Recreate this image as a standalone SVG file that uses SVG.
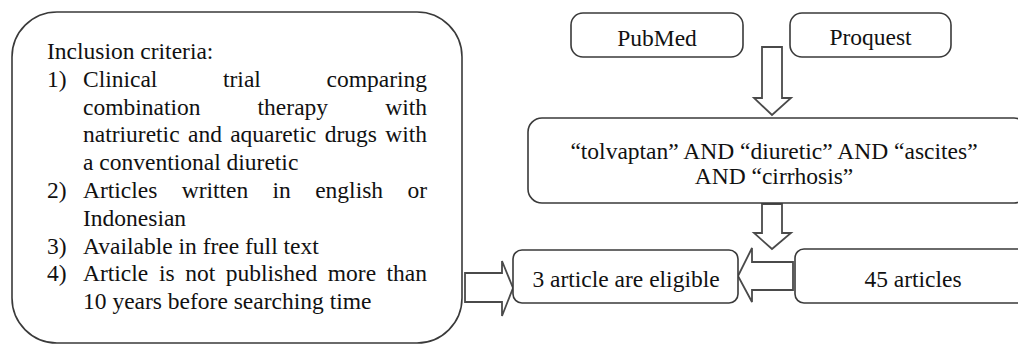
<svg xmlns="http://www.w3.org/2000/svg" width="1018" height="344" viewBox="0 0 1018 344" font-family="'Liberation Serif', 'Times New Roman', Times, serif">
<style>
  .box { fill: #ffffff; stroke: #3a3a3a; stroke-width: 1.6; }
  .arrow { fill: #ffffff; stroke: #4a4a4a; stroke-width: 1.8; stroke-linejoin: miter; }
  .t { font-family: 'Liberation Serif', 'Times New Roman', Times, serif; font-size: 23.5px; fill: #111111; }
  .c { text-anchor: middle; }
</style>
<rect width="1018" height="344" fill="#ffffff"/>

<g id="connectors">
  <polygon class="arrow" points="762,47 782,47 782,98 791,98 772,115 754,98 762,98"/>
  <polygon class="arrow" points="762,204 782,204 782,233 791,233 772,249 754,233 762,233"/>
  <polygon class="arrow" points="793,262 752,262 752,248 738,276 752,302 752,290 793,290"/>
  <polygon class="arrow" points="465,273 502,273 502,261 513,288 502,316 502,302 465,302"/>
</g>

<g id="criteria">
  <rect class="box" x="12" y="12" width="450" height="331" rx="45" ry="45"/>
  <text class="t" x="47" y="59">Inclusion criteria:</text>
  <text class="t" x="47" y="86.8">1)</text>
  <text class="t" y="86.8"><tspan x="83">Clinical</tspan><tspan x="223">trial</tspan><tspan x="326.5">comparing</tspan></text>
  <text class="t" y="114.6"><tspan x="83">combination</tspan><tspan x="257.6">therapy</tspan><tspan x="385.2">with</tspan></text>
  <text class="t" y="142.4"><tspan x="83">natriuretic</tspan><tspan x="188">and</tspan><tspan x="230.2">aquaretic</tspan><tspan x="324.7">drugs</tspan><tspan x="385.2">with</tspan></text>
  <text class="t" x="83" y="170.2">a conventional diuretic</text>
  <text class="t" x="47" y="198">2)</text>
  <text class="t" y="198"><tspan x="83">Articles</tspan><tspan x="181.7">written</tspan><tspan x="272.6">in</tspan><tspan x="315.2">english</tspan><tspan x="407.4">or</tspan></text>
  <text class="t" x="83" y="225.8">Indonesian</text>
  <text class="t" x="47" y="253.6">3)</text>
  <text class="t" x="83" y="253.6">Available in free full text</text>
  <text class="t" x="47" y="281.4">4)</text>
  <text class="t" y="281.4"><tspan x="83">Article</tspan><tspan x="158.9">is</tspan><tspan x="185.2">not</tspan><tspan x="225.8">published</tspan><tspan x="327.8">more</tspan><tspan x="386.6">than</tspan></text>
  <text class="t" x="83" y="309.2">10 years before searching time</text>
</g>

<g id="pubmed">
  <rect class="box" x="571" y="13" width="172" height="44" rx="12" ry="12"/>
  <text class="t c" x="657" y="46">PubMed</text>
</g>

<g id="proquest">
  <rect class="box" x="790" y="13" width="161" height="44" rx="12" ry="12"/>
  <text class="t c" x="870.5" y="45">Proquest</text>
</g>

<g id="search">
  <rect class="box" x="528" y="118" width="500" height="85" rx="14" ry="14"/>
  <text class="t c" x="774" y="159">“tolvaptan” AND “diuretic” AND “ascites”</text>
  <text class="t c" x="774" y="184">AND “cirrhosis”</text>
</g>

<g id="eligible">
  <rect class="box" x="513" y="250" width="225" height="53" rx="9" ry="9"/>
  <text class="t c" x="626" y="287">3 article are eligible</text>
</g>

<g id="articles45">
  <rect class="box" x="795" y="249" width="240" height="54" rx="9" ry="9"/>
  <text class="t c" x="913" y="287">45 articles</text>
</g>
</svg>
